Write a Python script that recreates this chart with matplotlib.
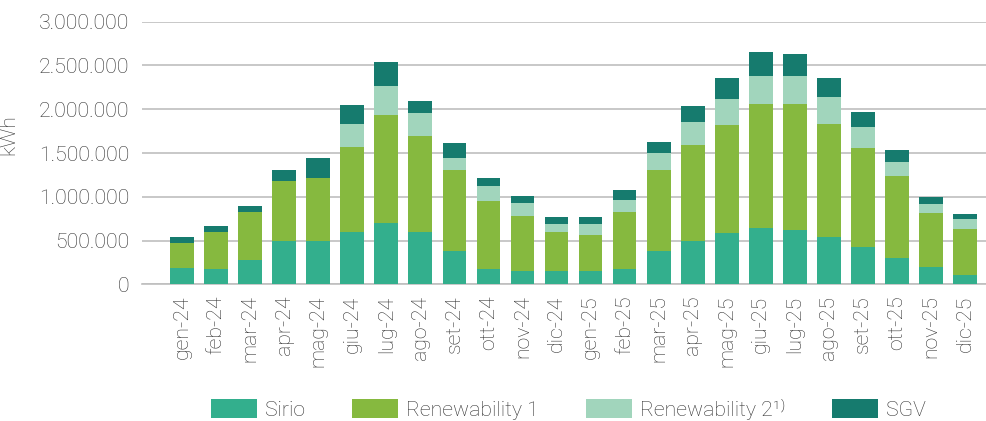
import numpy as np
import matplotlib
matplotlib.use("Agg")
import matplotlib.pyplot as plt
from matplotlib.ticker import FuncFormatter

plt.rcParams['font.family'] = ['Roboto', 'DejaVu Sans']

months = ['gen-24', 'feb-24', 'mar-24', 'apr-24', 'mag-24', 'giu-24', 'lug-24', 'ago-24',
          'set-24', 'ott-24', 'nov-24', 'dic-24', 'gen-25', 'feb-25', 'mar-25', 'apr-25',
          'mag-25', 'giu-25', 'lug-25', 'ago-25', 'set-25', 'ott-25', 'nov-25', 'dic-25']

# kWh
sirio = [190000, 175000, 278000, 495000, 495000, 598000, 700000, 598000,
         381000, 175000, 152000, 152000, 152000, 175000, 381000, 495000,
         586000, 643000, 621000, 541000, 426000, 301000, 198000, 107000]
renew1 = [282000, 423000, 548000, 685000, 719000, 970000, 1234000, 1096000,
          925000, 777000, 628000, 446000, 411000, 651000, 925000, 1096000,
          1234000, 1417000, 1439000, 1290000, 1131000, 936000, 617000, 525000]
renew2 = [0, 0, 0, 0, 0, 263000, 331000, 263000,
          137000, 171000, 149000, 91000, 126000, 137000, 194000, 263000,
          297000, 319000, 319000, 309000, 240000, 160000, 102000, 114000]
sgv = [68000, 68000, 69000, 126000, 229000, 217000, 274000, 137000,
       171000, 91000, 80000, 80000, 80000, 114000, 126000, 183000,
       240000, 274000, 252000, 217000, 171000, 137000, 80000, 57000]

series = [
    ('Sirio', sirio, '#33af8d'),
    ('Renewability 1', renew1, '#86b93f'),
    ('Renewability 2\u00b9\u207e', renew2, '#a1d5bc'),
    ('SGV', sgv, '#167b6e'),
]

text_col = '#333333'
grid_col = '#bfbfbf'
fs = 15.3

fig = plt.figure(figsize=(9.87, 4.21), dpi=100)
ax = fig.add_axes([0.1439, 0.3245, 0.8561, 0.624])

x = np.arange(len(months))
bottom = np.zeros(len(months))
for name, vals, col in series:
    vals = np.array(vals, dtype=float)
    ax.bar(x, vals, 0.7, bottom=bottom, color=col, label=name, zorder=3)
    bottom += vals

ax.set_ylim(0, 3000000)
ax.set_yticks(np.arange(0, 3000001, 500000))
ax.yaxis.set_major_formatter(FuncFormatter(lambda v, p: f'{int(v):,}'.replace(',', '.')))
ax.set_xlim(-1.18, 23.65)
ax.set_xticks(x)
ax.set_xticklabels(months, rotation=90)

ax.grid(axis='y', color=grid_col, linewidth=1.2, zorder=0)
for s in ['top', 'right', 'left']:
    ax.spines[s].set_visible(False)
ax.spines['bottom'].set_color(grid_col)
ax.spines['bottom'].set_linewidth(1.2)
ax.tick_params(axis='both', length=0, labelsize=fs, labelcolor=text_col)
ax.tick_params(axis='x', pad=8)
ax.tick_params(axis='y', pad=9)
for lab in ax.get_xticklabels() + ax.get_yticklabels():
    lab.set_fontweight('light')

ax.set_ylabel('kWh', fontsize=fs, color=text_col, fontweight='light')
ax.yaxis.set_label_coords(-0.147, 0.569)

leg = fig.legend(loc='center', bbox_to_anchor=(0.576, 0.028), ncol=4, frameon=False,
                 handlelength=2.15, handleheight=1.05, handletextpad=0.38, columnspacing=2.22,
                 borderaxespad=0, borderpad=0, prop={'size': fs, 'weight': 'light'})
for t in leg.get_texts():
    t.set_color(text_col)

fig.savefig('out.png', dpi=100)
